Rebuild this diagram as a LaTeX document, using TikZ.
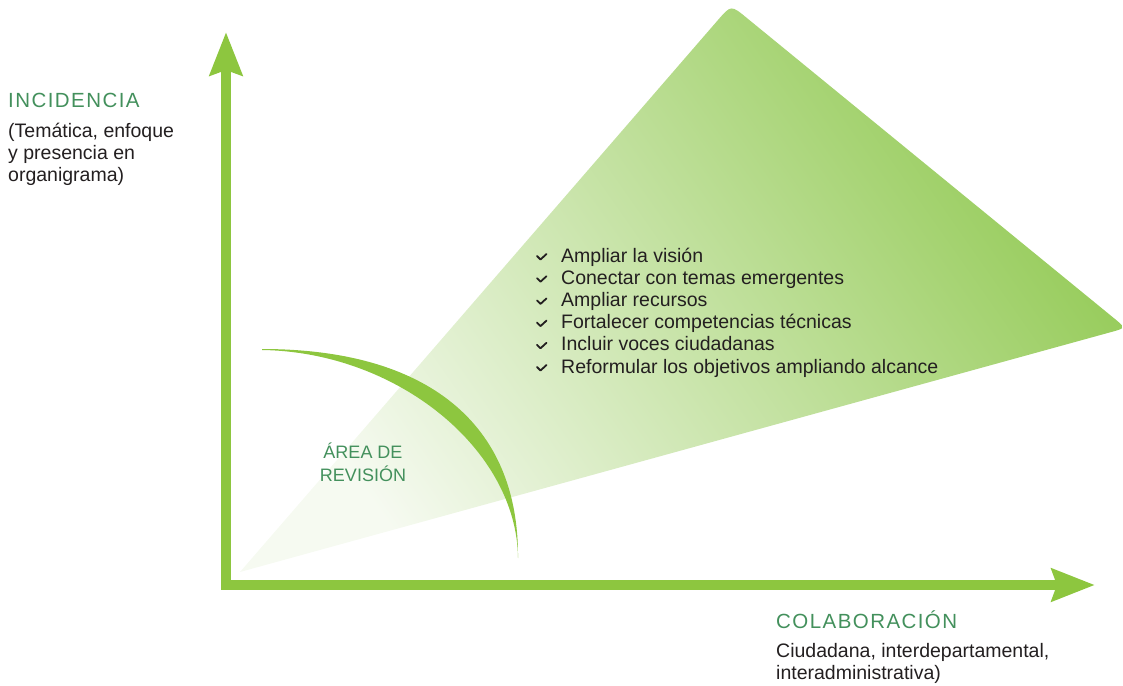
\documentclass[tikz,border=0pt]{standalone}
\usepackage{fontspec}
\setmainfont{Liberation Sans}
\newfontfamily\headfont[LetterSpace=7]{Liberation Sans}
\usetikzlibrary{arrows.meta}
\definecolor{axisgreen}{HTML}{8DC63F}
\definecolor{labelgreen}{HTML}{43905C}
\definecolor{textgray}{HTML}{231F20}
\definecolor{palegreen}{HTML}{F6FAF1}
\definecolor{deepgreen}{HTML}{93CA55}
\tikzset{
  axis/.style={line width=10pt, axisgreen, line join=miter,
    {Stealth[length=43pt,width=32pt,inset=5pt]}-{Stealth[length=43pt,width=32pt,inset=5pt]}},
  heading/.style={anchor=base west, inner sep=0pt, text=labelgreen,
    font=\headfont\fontsize{20.5}{22}\selectfont},
  body/.style={anchor=base west, inner sep=0pt, text=textgray,
    font=\fontsize{19.5}{22}\selectfont},
  tick/.style={line width=1.8pt, textgray, line cap=round, line join=round},
}
\begin{document}
\begin{tikzpicture}[x=1pt,y=-1pt]
\useasboundingbox (0,0) rectangle (1123,685);
% shaded wedge
\shade[left color=palegreen, right color=deepgreen, shading angle=125]
  (240,572) -- (717.9,20.1) .. controls (731,5) .. (746.5,17.7)
  -- (1113.6,317.9) .. controls (1126,328) .. (1110.6,332.2) -- cycle;
% axes
\coordinate (ytip) at (226,32);
\coordinate (origin) at (226,585);
\coordinate (xtip) at (1095,585);
\draw[axis] (ytip) -- (origin) -- (xtip);
% review arc
\fill[axisgreen] (262,349) .. controls (428,349) and (519,424) .. (518,558)
  .. controls (517,450) and (398,352) .. (262,350) -- cycle;
\node[align=center, inner sep=0pt, text=labelgreen, font=\fontsize{18}{23}\selectfont]
  (area) at (363,462) {ÁREA DE\\REVISIÓN};
% axis labels
\node[heading] (inc) at (8,107) {INCIDENCIA};
\node[body] (inc1) at (8,137) {(Temática, enfoque};
\node[body] (inc2) at (8,159) {y presencia en};
\node[body] (inc3) at (8,181) {organigrama)};
\node[heading] (colab) at (776,628) {COLABORACIÓN};
\node[body] (colab1) at (776,657) {Ciudadana, interdepartamental,};
\node[body] (colab2) at (776,679) {interadministrativa)};
% goals
\foreach \goal [count=\i from 0] in {Ampliar la visión, Conectar con temas emergentes,
  Ampliar recursos, Fortalecer competencias técnicas, Incluir voces ciudadanas,
  Reformular los objetivos ampliando alcance}{
  \pgfmathsetmacro\y{262+22.2*\i}
  \node[body] (goal\i) at (561,\y) {\goal};
  \draw[tick] (537,\y-6) -- (540.5,\y-2.5) -- (546.5,\y-8);
}
\end{tikzpicture}
\end{document}
